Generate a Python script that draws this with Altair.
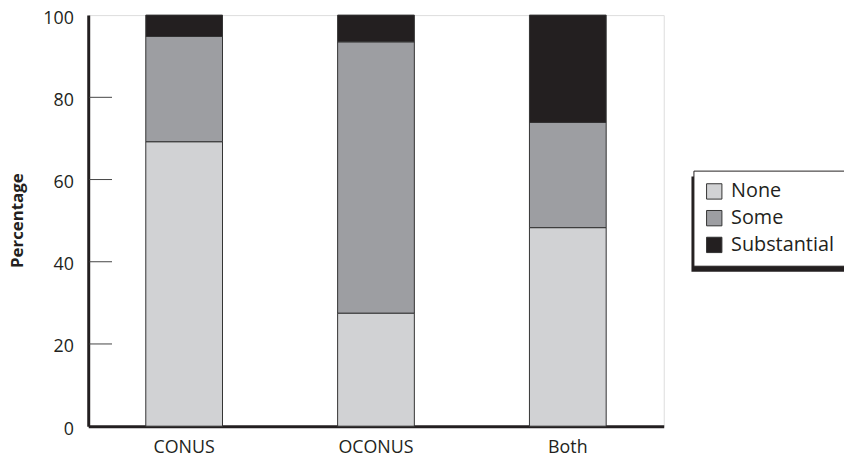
import altair as alt
import pandas as pd

categories = ["CONUS", "OCONUS", "Both"]
levels = ["None", "Some", "Substantial"]
none_vals = [69.2, 27.5, 48.3]
some_vals = [25.6, 66.0, 25.6]
subst_vals = [5.2, 6.5, 26.1]
level_colors = ["#d1d2d4", "#9d9ea2", "#231f20"]
y_ticks = [0, 20, 40, 60, 80, 100]

rows = []
for i, c in enumerate(categories):
    for j, (lev, vals) in enumerate(zip(levels, [none_vals, some_vals, subst_vals])):
        rows.append({"category": c, "level": lev, "value": vals[i], "order": j})
df = pd.DataFrame(rows)
ticks_df = pd.DataFrame({"t": y_ticks[1:-1]})
shadow_df = pd.DataFrame({"s": [1]})

FONT = "Open Sans"
TXT = "#231f20"

y_axis = alt.Axis(
    values=y_ticks, ticks=False, grid=False, domainWidth=3, domainColor=TXT,
    labelFontSize=18, labelColor=TXT, labelPadding=15, labelFont=FONT, labelOffset=3,
    title="Percentage", titleFont=FONT, titleFontSize=17, titleFontWeight="bold",
    titleColor=TXT, titleX=-71, titleY=207, titleAngle=-90, titleAlign="center",
    titleBaseline="middle",
)
y_scale = alt.Scale(domain=[0, 100], nice=False, zero=True)

bars = alt.Chart(df).mark_bar(stroke="#333333", strokeWidth=1).encode(
    x=alt.X("category:N", sort=categories, title=None,
            scale=alt.Scale(paddingInner=0.6, paddingOuter=0.3),
            axis=alt.Axis(labelAngle=0, ticks=False, domainWidth=3, domainColor=TXT,
                          labelFontSize=18, labelFont=FONT, labelColor=TXT,
                          labelPadding=13)),
    y=alt.Y("value:Q", stack="zero", scale=y_scale, axis=y_axis),
    order=alt.Order("order:Q"),
    color=alt.Color("level:N", sort=levels,
                    scale=alt.Scale(domain=levels, range=level_colors),
                    legend=alt.Legend(
                        title=None, orient="none", legendX=611, legendY=157,
                        padding=11, strokeColor=TXT, fillColor="white",
                        symbolType="square", symbolSize=240, symbolStrokeColor="#333333",
                        symbolStrokeWidth=1, labelFontSize=20, labelFont=FONT,
                        labelColor=TXT, labelOffset=7, rowPadding=7,
                    )),
)

tick_rules = alt.Chart(ticks_df).mark_rule(color="#444444", strokeWidth=1).encode(
    x=alt.value(1), x2=alt.value(24),
    y=alt.Y("t:Q", scale=y_scale, axis=y_axis),
)

shadow = alt.Chart(shadow_df).mark_rect(color=TXT).encode(
    x=alt.value(609), x2=alt.value(763), y=alt.value(163), y2=alt.value(259),
)

chart = alt.layer(shadow, bars, tick_rules).properties(
    width=581, height=415,
    autosize=alt.AutoSizeParams(type="none"),
    padding={"left": 81, "top": 5, "right": 182, "bottom": 35},
).configure_view(stroke="#444444", strokeWidth=1.5).configure(font=FONT)

chart.save("out.html", embed_options={"renderer": "svg", "actions": False})
